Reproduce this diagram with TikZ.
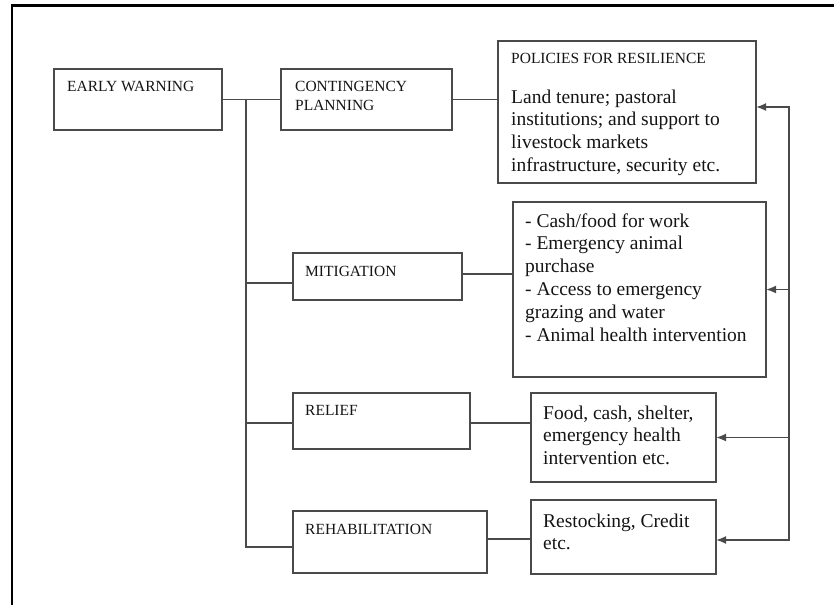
\documentclass[tikz,border=0pt]{standalone}
\usepackage{fontspec}
\setmainfont{Liberation Serif}
\usetikzlibrary{arrows.meta}
\definecolor{linegray}{HTML}{4A4A4A}
\definecolor{txtcol}{HTML}{141414}
\newcommand{\lns}[1]{\begin{tabular}[t]{@{}l@{}}#1\end{tabular}}
\begin{document}
\begin{tikzpicture}[x=1pt,y=-1pt,
  box/.style={draw=linegray, line width=1.8pt, rectangle, inner sep=0pt, outer sep=0pt, anchor=north west},
  caplbl/.style={font=\fontsize{15.5}{19}\selectfont, text=txtcol, inner sep=0pt, anchor=base west},
  bodylbl/.style={font=\fontsize{19.5}{22.8}\selectfont, text=txtcol, inner sep=0pt, anchor=base west},
  conn/.style={draw=linegray, line width=1.8pt},
  tip/.style={-{Latex[length=10pt,width=8pt]}}
]
\useasboundingbox (0,0) rectangle (834,605);
% frame
\draw[black, line width=2.2pt] (12,605) -- (12,5.5) -- (834,5.5);

% boxes
\node[box, minimum width=168pt, minimum height=61pt] (ew) at (54,69) {};
\node[box, minimum width=171pt, minimum height=61pt] (cp) at (281,69) {};
\node[box, minimum width=258pt, minimum height=142pt] (pol) at (498,41) {};
\node[box, minimum width=169pt, minimum height=47pt] (mit) at (293,253) {};
\node[box, minimum width=253pt, minimum height=175pt] (ml) at (513,202) {};
\node[box, minimum width=177pt, minimum height=56pt] (rel) at (293,393) {};
\node[box, minimum width=185pt, minimum height=89pt] (rlt) at (531,393) {};
\node[box, minimum width=194pt, minimum height=62pt] (rh) at (293,511) {};
\node[box, minimum width=185pt, minimum height=74pt] (rht) at (531,500) {};

% texts
\node[caplbl] (ewtxt) at (67,91) {EARLY WARNING};
\node[caplbl] (cptxt) at (295,91) {\lns{CONTINGENCY\\PLANNING}};
\node[caplbl] (polhead) at (511,63) {POLICIES FOR RESILIENCE};
\node[bodylbl] (polbody) at (511,103) {\lns{Land tenure; pastoral\\institutions; and support to\\livestock markets\\infrastructure, security etc.}};
\node[caplbl] (mittxt) at (305,276) {MITIGATION};
\node[bodylbl] (mltxt) at (525,227) {\lns{- Cash/food for work\\- Emergency animal\\purchase\\- Access to emergency\\grazing and water\\- Animal health intervention}};
\node[caplbl] (reltxt) at (305,415) {RELIEF};
\node[bodylbl] (rlttxt) at (543,419) {\lns{Food, cash, shelter,\\emergency health\\intervention etc.}};
\node[caplbl] (rhtxt) at (305,534) {REHABILITATION};
\node[bodylbl] (rhttxt) at (543,527) {\lns{Restocking, Credit\\etc.}};

% left tree
\coordinate (j) at (246,99);
\coordinate (mitin) at ([yshift=-6.5pt]mit.west);
\coordinate (relin) at ([yshift=-2pt]rel.west);
\coordinate (rhin) at ([yshift=-5pt]rh.west);
\draw[conn] (ew.east) -- (cp.west);
\draw[conn] (j) |- (rhin);
\draw[conn] (j |- mitin) -- (mitin);
\draw[conn] (j |- relin) -- (relin);

% to detail boxes
\coordinate (mitout) at ([yshift=2.5pt]mit.east);
\coordinate (relout) at ([yshift=-2pt]rel.east);
\coordinate (rhout) at ([yshift=3pt]rh.east);
\draw[conn] (cp.east) -- (cp.east -| pol.west);
\draw[conn] (mitout) -- (mitout -| ml.west);
\draw[conn] (relout) -- (relout -| rlt.west);
\draw[conn] (rhout) -- (rhout -| rht.west);

% right feedback line
\coordinate (rvtop) at (789,107);
\coordinate (rvbot) at (789,540);
\draw[conn, {Latex[length=10pt,width=8pt]}-{Latex[length=10pt,width=8pt]}] (rvtop -| pol.east) -- (rvtop) -- (rvbot) -- (rvbot -| rht.east);
\draw[conn, tip] (rvtop |- ml.east) -- (ml.east);
\draw[conn, tip] (rvtop |- rlt.east) -- (rlt.east);
\end{tikzpicture}
\end{document}
